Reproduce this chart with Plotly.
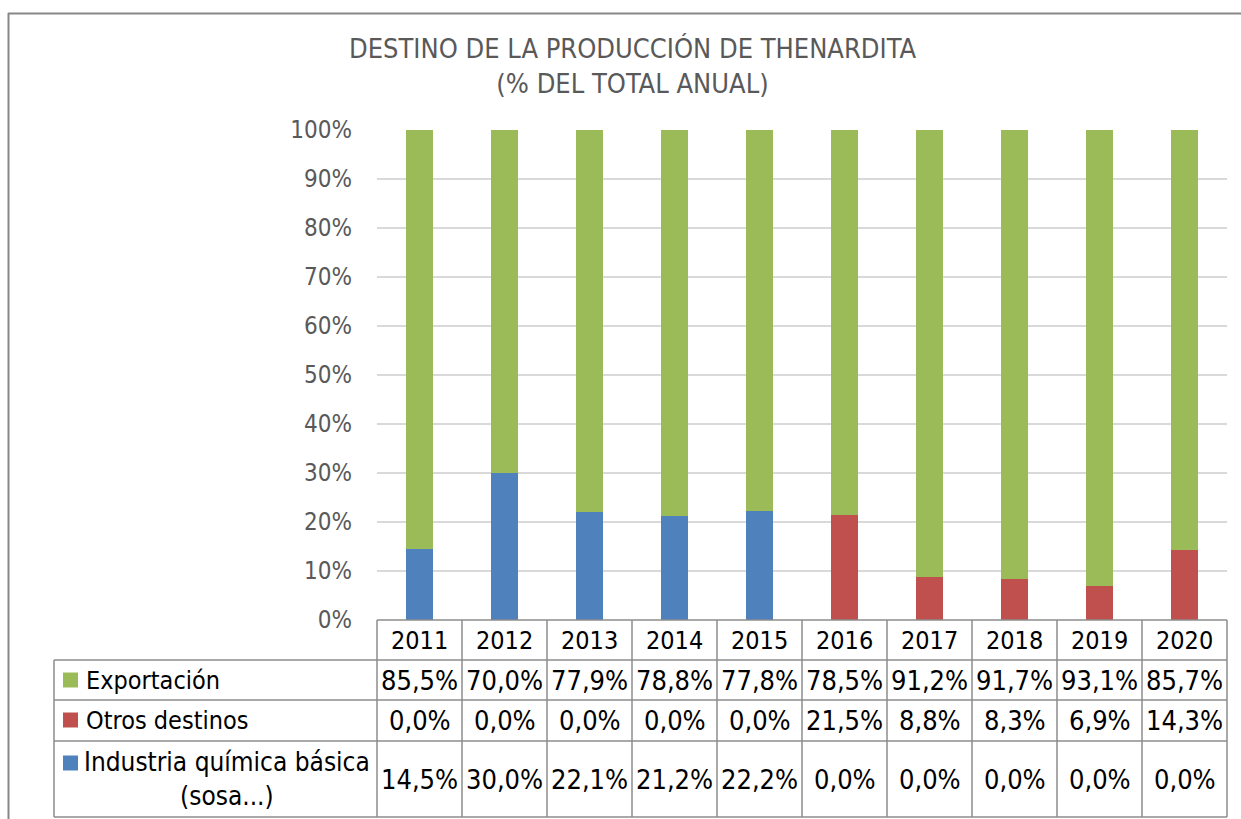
import plotly.graph_objects as go

years = ["2011", "2012", "2013", "2014", "2015", "2016", "2017", "2018", "2019", "2020"]
exportacion = [85.5, 70.0, 77.9, 78.8, 77.8, 78.5, 91.2, 91.7, 93.1, 85.7]
otros = [0.0, 0.0, 0.0, 0.0, 0.0, 21.5, 8.8, 8.3, 6.9, 14.3]
industria = [14.5, 30.0, 22.1, 21.2, 22.2, 0.0, 0.0, 0.0, 0.0, 0.0]
y_ticks = [0, 10, 20, 30, 40, 50, 60, 70, 80, 90, 100]

C_GREEN = "#9BBB59"
C_RED = "#C0504D"
C_BLUE = "#4F81BD"
FONT = "DejaVu Sans Condensed, DejaVu Sans, sans-serif"

W, H = 1241, 819
L, R, T, B = 377, 1227, 130, 620


def px(x):
    return (x - L) / (R - L)


def py(y):
    return (B - y) / (B - T)


fig = go.Figure()
fig.add_trace(go.Bar(x=years, y=industria, name="Industria química básica (sosa...)",
                     marker=dict(color=C_BLUE, line=dict(width=0))))
fig.add_trace(go.Bar(x=years, y=otros, name="Otros destinos",
                     marker=dict(color=C_RED, line=dict(width=0))))
fig.add_trace(go.Bar(x=years, y=exportacion, name="Exportación",
                     marker=dict(color=C_GREEN, line=dict(width=0))))

shapes = []
GRID = "#8C8C8C"
# outer chart border (top and left visible)
shapes.append(dict(type="line", xref="paper", yref="paper", x0=px(8), x1=px(1260), y0=py(13.5), y1=py(13.5),
                   line=dict(color="#878787", width=2), layer="above"))
shapes.append(dict(type="line", xref="paper", yref="paper", x0=px(8.5), x1=px(8.5), y0=py(13), y1=py(830),
                   line=dict(color="#878787", width=2), layer="above"))

row_edges = [620, 660, 700, 741, 817]
col_edges = [L + i * (R - L) / len(years) for i in range(len(years) + 1)]
# horizontal table lines
for yy in row_edges:
    x_start = L if yy == 620 else 54
    shapes.append(dict(type="line", xref="paper", yref="paper", x0=px(x_start), x1=px(R), y0=py(yy), y1=py(yy),
                       line=dict(color=GRID, width=1.5), layer="above"))
# vertical table lines
shapes.append(dict(type="line", xref="paper", yref="paper", x0=px(54), x1=px(54), y0=py(660), y1=py(817),
                   line=dict(color=GRID, width=1.5), layer="above"))
for xx in col_edges:
    shapes.append(dict(type="line", xref="paper", yref="paper", x0=px(xx), x1=px(xx), y0=py(620), y1=py(817),
                       line=dict(color=GRID, width=1.5), layer="above"))

annotations = []
annotations.append(dict(text="DESTINO DE LA PRODUCCIÓN DE THENARDITA<br>(% DEL TOTAL ANUAL)",
                        xref="paper", yref="paper", x=px(632), y=py(66), xanchor="center", yanchor="middle",
                        showarrow=False, align="center",
                        font=dict(family=FONT, size=27, color="#595959")))
for i, yr in enumerate(years):
    annotations.append(dict(text=yr, xref="x", yref="paper", x=i, y=py(640), xanchor="center",
                            yanchor="middle", showarrow=False, font=dict(family=FONT, size=25, color="#000000")))

rows = [
    ("Exportación", exportacion, C_GREEN, 680),
    ("Otros destinos", otros, C_RED, 720),
    ("Industria química básica<br>(sosa...)", industria, C_BLUE, 779),
]
for label, vals, col, yc in rows:
    key_y = yc if "<br>" not in label else 763
    shapes.append(dict(type="rect", xref="paper", yref="paper", x0=px(63), x1=px(78),
                       y0=py(key_y - 7.5), y1=py(key_y + 7.5), fillcolor=col, line=dict(width=0), layer="above"))
    if "<br>" in label:
        annotations.append(dict(text=label, xref="paper", yref="paper", x=px(227), y=py(yc),
                                xanchor="center", yanchor="middle", align="center", showarrow=False,
                                font=dict(family=FONT, size=26, color="#000000")))
    else:
        annotations.append(dict(text=label, xref="paper", yref="paper", x=px(84), y=py(yc),
                                xanchor="left", yanchor="middle", showarrow=False,
                                font=dict(family=FONT, size=25, color="#000000")))
    for i, v in enumerate(vals):
        annotations.append(dict(text=f"{v:.1f}".replace(".", ",") + "%", xref="x", yref="paper", x=i,
                                y=py(yc), xanchor="center", yanchor="middle", showarrow=False,
                                font=dict(family=FONT, size=27, color="#000000")))

fig.update_layout(
    width=W, height=H,
    margin=dict(l=L, r=W - R, t=T, b=H - B, pad=0),
    paper_bgcolor="white", plot_bgcolor="white",
    barmode="stack", bargap=0.68,
    showlegend=False,
    shapes=shapes, annotations=annotations,
    xaxis=dict(type="category", showticklabels=False, showgrid=False, zeroline=False, showline=False, ticks="",
               range=[-0.5, len(years) - 0.5]),
    yaxis=dict(range=[0, 100], tickvals=y_ticks, ticktext=[f"{t}%" for t in y_ticks],
               showgrid=True, gridcolor="#D9D9D9", gridwidth=2, zeroline=False, showline=False,
               ticks="", ticklabelstandoff=24,
               tickfont=dict(family=FONT, size=24, color="#595959")),
)

fig.write_html("out.html", config={"displayModeBar": False},
               post_script="document.body.style.margin='0';")
